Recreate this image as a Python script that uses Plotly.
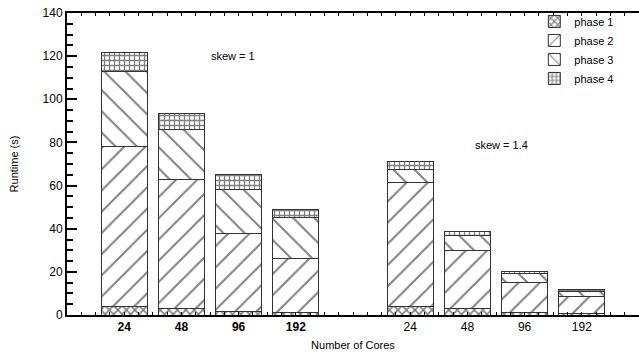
import plotly.graph_objects as go

cores = ["24", "48", "96", "192"]
skews = ["skew = 1", "skew = 1.4"]

# per-phase runtimes (s), skew=1 then skew=1.4
phase1 = [3.9, 2.9, 1.6, 1.0, 3.9, 2.9, 1.3, 0.8]
phase2 = [74.2, 59.8, 36.0, 25.0, 57.7, 27.0, 13.6, 7.6]
phase3 = [34.8, 23.2, 20.6, 19.0, 5.9, 7.0, 4.3, 2.6]
phase4 = [8.9, 7.7, 6.8, 3.9, 3.7, 2.0, 1.1, 1.0]

phases = ["phase 1", "phase 2", "phase 3", "phase 4"]
values = [phase1, phase2, phase3, phase4]

# slot positions: two groups with an empty slot between them
xpos = [0, 1, 2, 3, 5, 6, 7, 8]
ticklabels = ["<b>" + c + "</b>" for c in cores] + cores

patterns = [
    dict(shape="x", size=6, solidity=0.45),
    dict(shape="/", size=15, solidity=0.13),
    dict(shape="\\", size=15, solidity=0.13),
    dict(shape="+", size=5, solidity=0.45),
]

fig = go.Figure()
for name, vals, pat in zip(phases, values, patterns):
    fig.add_trace(go.Bar(
        x=xpos, y=vals, name=name, width=0.81,
        marker=dict(color="white", line=dict(color="#333333", width=1),
                    pattern=dict(fgcolor="black", bgcolor="white", **pat)),
    ))

fig.update_layout(
    barmode="stack",
    width=639, height=358,
    margin=dict(l=67, r=0, t=13, b=43, autoexpand=False),
    plot_bgcolor="white", paper_bgcolor="white",
    font=dict(family="Liberation Sans, Arial, sans-serif", size=12, color="black"),
    showlegend=True,
    legend=dict(x=0.817, y=1.02, xanchor="left", yanchor="top",
                bgcolor="rgba(0,0,0,0)", font=dict(size=11),
                traceorder="normal", tracegroupgap=0),
    annotations=[
        dict(x=1.9, y=120.3, xref="x", yref="y", text=skews[0], showarrow=False,
             font=dict(size=11)),
        dict(x=6.59, y=79, xref="x", yref="y", text=skews[1], showarrow=False,
             font=dict(size=11)),
    ],
)
fig.update_xaxes(
    range=[-1, 9], tickvals=xpos, ticktext=ticklabels,
    showline=True, linecolor="black", linewidth=2, mirror="ticks",
    ticks="inside", ticklen=3, tickcolor="black",
    minor=dict(dtick=0.25, tick0=-1, ticks="inside", ticklen=3, tickcolor="black"),
    showgrid=False, zeroline=False,
    title=dict(text="Number of Cores", font=dict(size=11), standoff=8),
    tickfont=dict(size=12), ticklabeloverflow="allow",
)
fig.update_yaxes(
    range=[0, 140], dtick=20,
    showline=True, linecolor="black", linewidth=2,
    ticks="inside", ticklen=10, tickwidth=2, tickcolor="black",
    minor=dict(dtick=5, ticks="inside", ticklen=6, tickwidth=2, tickcolor="black"),
    showgrid=False, zeroline=False,
    title=dict(text="Runtime (s)", font=dict(size=11), standoff=22),
    tickfont=dict(size=12), ticklabeloverflow="allow",
)

# remove the browser's default body margin so the figure fills the window
fig.write_html("out.html",
               config={"displayModeBar": False},
               post_script="document.body.style.margin='0';"
                           "document.body.style.overflow='hidden';")
